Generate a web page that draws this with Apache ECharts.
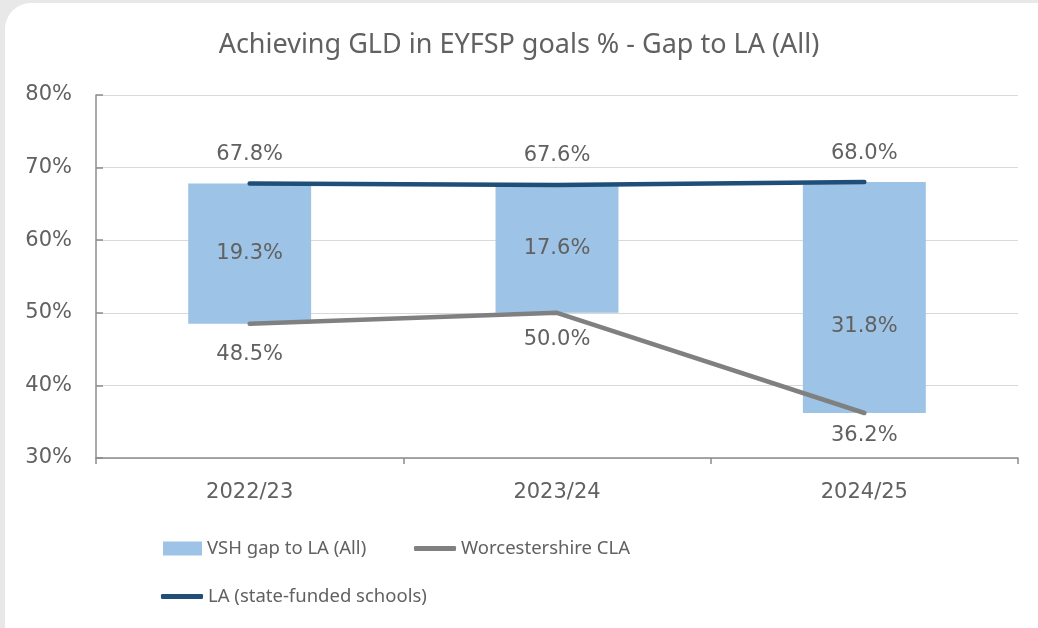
<!DOCTYPE html>
<html>
<head>
<meta charset="utf-8">
<script src="https://cdn.jsdelivr.net/npm/echarts@6/dist/echarts.min.js"></script>
<style>
  html, body { margin: 0; padding: 0; background: #e8e8e8; overflow: hidden; }
  #card { position: absolute; left: 5px; top: 3px; width: 1100px; height: 700px; background: #fff; border-radius: 26px; }
  #chart { position: absolute; left: 0; top: 0; width: 1038px; height: 628px; }
</style>
</head>
<body>
<div id="card"></div>
<div id="chart"></div>
<script>
const categories = ['2022/23', '2023/24', '2024/25'];
const laValues = [67.8, 67.6, 68.0];       // LA (state-funded schools)
const claValues = [48.5, 50.0, 36.2];      // Worcestershire CLA
const gapValues = [19.3, 17.6, 31.8];      // VSH gap to LA (All)
const yTicks = { min: 30, max: 80, interval: 10 };

const FONT = 'Noto Sans';
const NUMFONT = 'DejaVu Sans';
const TXT = '#616161';

const chart = echarts.init(document.getElementById('chart'));
const legendText = { color: TXT, fontSize: 18.5, fontFamily: FONT };
const numLabel = { color: TXT, fontSize: 21, fontFamily: NUMFONT };
const pct = p => p.value.toFixed(1) + '%';

// label spacing per point (style, not data)
const claLabelDist = [20, 16, 12];

const option = {
  animation: false,
  textStyle: { fontFamily: FONT },
  title: {
    text: 'Achieving GLD in EYFSP goals % - Gap to LA (All)',
    left: 'center', top: 27,
    textStyle: { color: TXT, fontSize: 27, fontWeight: 'normal', fontFamily: FONT }
  },
  grid: { left: 96, right: 20, top: 95, bottom: 170, containLabel: false },
  legend: [
    { left: 163, top: 539, padding: 0, itemWidth: 39, itemHeight: 14, itemGap: 0, textStyle: legendText,
      data: [{ name: 'VSH gap to LA (All)', icon: 'rect' }] },
    { left: 414, top: 539, padding: 0, itemWidth: 42, itemHeight: 5, itemGap: 0, textStyle: legendText,
      data: [{ name: 'Worcestershire CLA', icon: 'roundRect' }] },
    { left: 161, top: 587, padding: 0, itemWidth: 42, itemHeight: 5, itemGap: 0, textStyle: legendText,
      data: [{ name: 'LA (state-funded schools)', icon: 'roundRect' }] }
  ],
  xAxis: {
    type: 'category',
    data: categories,
    axisLine: { lineStyle: { color: '#8c8c8c', width: 1.5 } },
    axisTick: { show: true, length: 6, lineStyle: { color: '#8c8c8c', width: 1.5 } },
    axisLabel: { color: TXT, fontSize: 21, fontFamily: NUMFONT, margin: 24 }
  },
  yAxis: {
    type: 'value',
    min: yTicks.min, max: yTicks.max, interval: yTicks.interval,
    axisLine: { show: true, lineStyle: { color: '#8c8c8c', width: 1.5 } },
    axisTick: { show: true, inside: true, length: 7, lineStyle: { color: '#8c8c8c', width: 1.5 } },
    splitLine: { lineStyle: { color: '#d9d9d9', width: 1.2 } },
    axisLabel: { color: TXT, fontSize: 21, fontFamily: NUMFONT, margin: 24, formatter: '{value}%' }
  },
  series: [
    {
      name: 'base', type: 'bar', stack: 'gap', data: claValues,
      barWidth: '40%', itemStyle: { color: 'rgba(0,0,0,0)' }, silent: true,
      legendHoverLink: false
    },
    {
      name: 'VSH gap to LA (All)', type: 'bar', stack: 'gap', barWidth: '40%',
      data: gapValues.map((v, i) => ({
        value: v,
        label: i === 2 ? { offset: [0, 29] } : {}
      })),
      itemStyle: { color: '#9dc3e6' },
      label: Object.assign({ show: true, position: 'inside', formatter: pct }, numLabel)
    },
    {
      name: 'Worcestershire CLA', type: 'line',
      data: claValues.map((v, i) => ({ value: v, label: { distance: claLabelDist[i] } })),
      symbol: 'circle', symbolSize: 1, showSymbol: true, z: 3,
      lineStyle: { color: '#808080', width: 4.5, cap: 'round' },
      itemStyle: { color: '#808080' },
      label: Object.assign({ show: true, position: 'bottom', distance: 18, formatter: pct }, numLabel)
    },
    {
      name: 'LA (state-funded schools)', type: 'line', data: laValues,
      symbol: 'circle', symbolSize: 1, showSymbol: true, z: 4,
      lineStyle: { color: '#1f4e79', width: 4.5, cap: 'round' },
      itemStyle: { color: '#1f4e79' },
      label: Object.assign({ show: true, position: 'top', distance: 18, formatter: pct }, numLabel)
    }
  ]
};
chart.setOption(option);
</script>
</body>
</html>
